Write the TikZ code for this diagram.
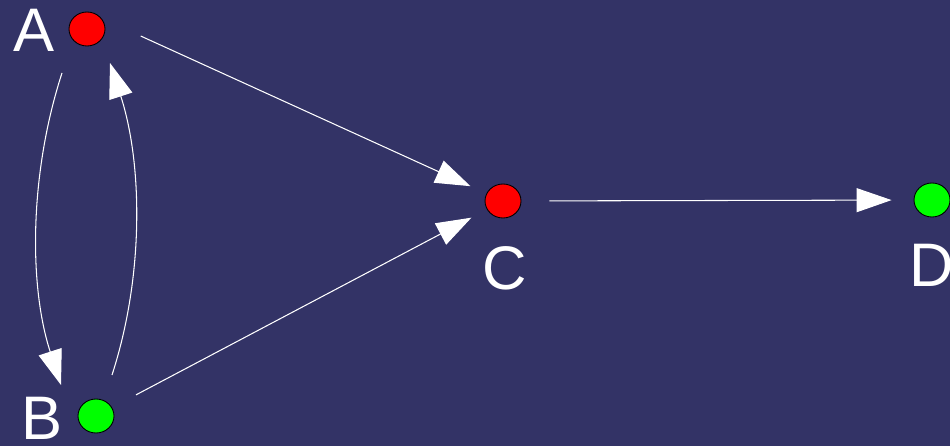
\documentclass[tikz,border=0pt]{standalone}
\usepackage{fontspec}
\setmainfont{Liberation Sans}
\usepackage{tikz}
\usetikzlibrary{positioning,arrows.meta,calc,shapes.geometric}
\definecolor{bgblue}{RGB}{51,51,102}
\definecolor{dotred}{RGB}{255,0,0}
\definecolor{dotgreen}{RGB}{0,255,0}
\tikzset{
  dot/.style={ellipse,draw=black,line width=0.5pt,minimum width=0.72cm,minimum height=0.68cm,inner sep=0pt},
  lbl/.style={text=white,inner sep=0pt,font=\fontsize{35}{35}\selectfont},
  link/.style={white,line width=0.6pt,-{Triangle[length=0.70cm,width=0.48cm]}}
}
\begin{document}
\begin{tikzpicture}
\fill[bgblue] (0,0) rectangle (19,8.92);
\useasboundingbox (0,0) rectangle (19,8.92);
% the four states
\node[dot,fill=dotred] (A) at (1.74,8.34) {};
\node[dot,fill=dotgreen] (B) at (1.92,0.60) {};
\node[dot,fill=dotred] (C) at (10.06,4.90) {};
\node[dot,fill=dotgreen] (D) at (18.64,4.92) {};
\node[lbl] (la) at (0.68,8.32) {A};
\node[lbl] (lb) at (0.84,0.56) {B};
\node[lbl] (lc) at (10.10,3.56) {C};
\node[lbl] (ld) at (18.64,3.62) {D};
% ends of the two bent links
\coordinate (a1) at ($(A)+(-0.50,-0.88)$);
\coordinate (b1) at ($(B)+(-0.70,0.62)$);
\coordinate (b2) at ($(B)+(0.32,0.82)$);
\coordinate (a2) at ($(A)+(0.46,-0.68)$);
\draw[link] (a1) to[out=252,in=108,looseness=0.86] (b1);
\draw[link] (b2) to[out=72,in=288,looseness=0.86] (a2);
\draw[link,shorten <=1.18cm,shorten >=0.35cm] (A.north) -- (C);
\draw[link,shorten <=0.54cm,shorten >=0.35cm] (B) -- (C);
\draw[link,shorten <=0.56cm,shorten >=0.44cm] (C) -- (D);
\end{tikzpicture}
\end{document}
